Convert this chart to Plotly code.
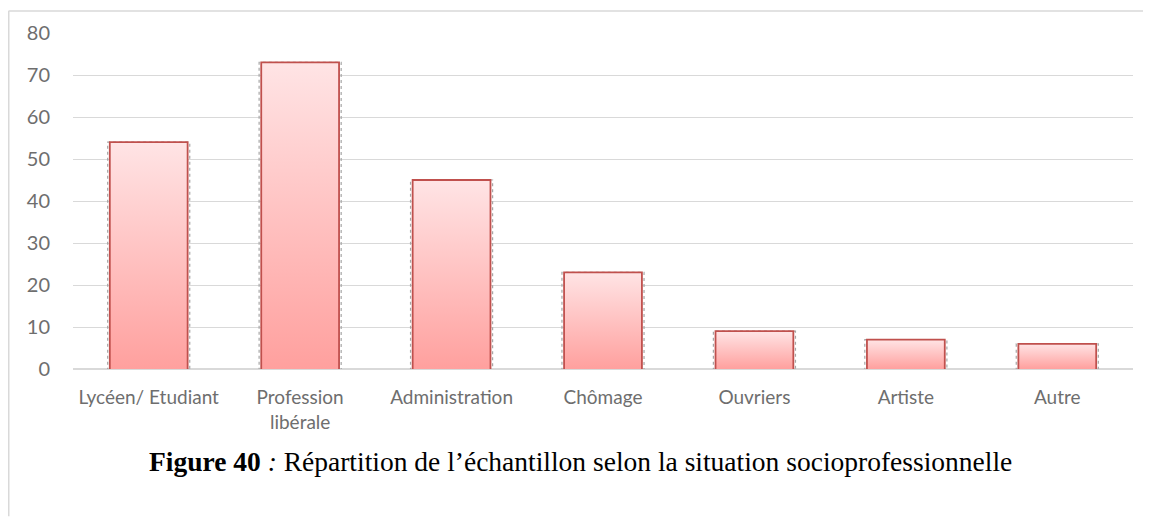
import plotly.graph_objects as go

categories = ["Lycéen/ Etudiant", "Profession<br>libérale", "Administration",
              "Chômage", "Ouvriers", "Artiste", "Autre"]
values = [54, 73, 45, 23, 9, 7, 6]
y_ticks = [0, 10, 20, 30, 40, 50, 60, 70, 80]

caption = ("<b>Figure 40</b> <i>:</i> Répartition de l’échantillon selon la "
           "situation socioprofessionnelle")

BAR_HALF = 0.257
SHADOW = 0.014

W, H = 1143, 509
L, T, PW, PH = 65, 25, 1060, 336.5
LABEL_COLOR = "#6E6E6E"

fig = go.Figure()

for i, v in enumerate(values):
    x0s, x1s = i - BAR_HALF - SHADOW, i + BAR_HALF + SHADOW
    fig.add_trace(go.Scatter(
        x=[x0s, x0s, x1s, x1s, x0s], y=[-0.4, v, v, -0.4, -0.4],
        mode="lines", line=dict(color="#A6A6A6", width=1.2, dash="dot"),
        hoverinfo="skip", showlegend=False))

for i, v in enumerate(values):
    x0, x1 = i - BAR_HALF, i + BAR_HALF
    fig.add_trace(go.Scatter(
        x=[x0, x0, x1, x1], y=[0, v, v, 0],
        mode="lines", fill="toself",
        fillgradient=dict(type="vertical",
                          colorscale=[[0, "#FFA09E"], [1, "#FFE4E5"]]),
        line=dict(color="#C0504D", width=1.8),
        name=categories[i].replace("<br>", " "),
        hovertemplate="%{fullData.name}: " + str(v) + "<extra></extra>",
        showlegend=False))


def px_x(px):
    return (px - L) / PW


def px_y(py):
    return (T + PH - py) / PH


fig.update_layout(
    width=W, height=H,
    margin=dict(l=L, r=W - L - PW, t=T, b=H - T - PH),
    paper_bgcolor="white", plot_bgcolor="white",
    font=dict(family="Lato, Open Sans, sans-serif", color=LABEL_COLOR, size=19),
    showlegend=False,
    xaxis=dict(range=[-0.5, len(values) - 0.5], tickmode="array",
               tickvals=list(range(len(values))), ticktext=categories,
               showgrid=False, zeroline=False, showline=False,
               ticks="outside", ticklen=11, tickcolor="rgba(0,0,0,0)",
               tickfont=dict(size=19, color=LABEL_COLOR), fixedrange=True),
    yaxis=dict(range=[0, 80], tickmode="array", tickvals=y_ticks,
               showgrid=True, gridcolor="#D9D9D9", gridwidth=1.3,
               zeroline=True, zerolinecolor="#D9D9D9", zerolinewidth=1.5,
               showline=False, ticks="outside", ticklen=18,
               tickcolor="rgba(0,0,0,0)",
               tickfont=dict(size=20, color=LABEL_COLOR), fixedrange=True),
    shapes=[
        dict(type="line", xref="paper", yref="paper",
             x0=px_x(0.5), x1=px_x(W),
             y0=px_y(3), y1=px_y(3),
             line=dict(color="#D9D9D9", width=1.5)),
        dict(type="line", xref="paper", yref="paper",
             x0=px_x(0.75), x1=px_x(0.75),
             y0=px_y(3), y1=px_y(H),
             line=dict(color="#D9D9D9", width=1.5)),
    ],
    annotations=[dict(text=caption, xref="paper", yref="paper",
                      x=px_x(572), y=px_y(454),
                      xanchor="center", yanchor="middle", showarrow=False,
                      font=dict(family="Liberation Serif, Times New Roman, serif",
                                size=27.5, color="black"))],
)

fig.write_html("out.html")
